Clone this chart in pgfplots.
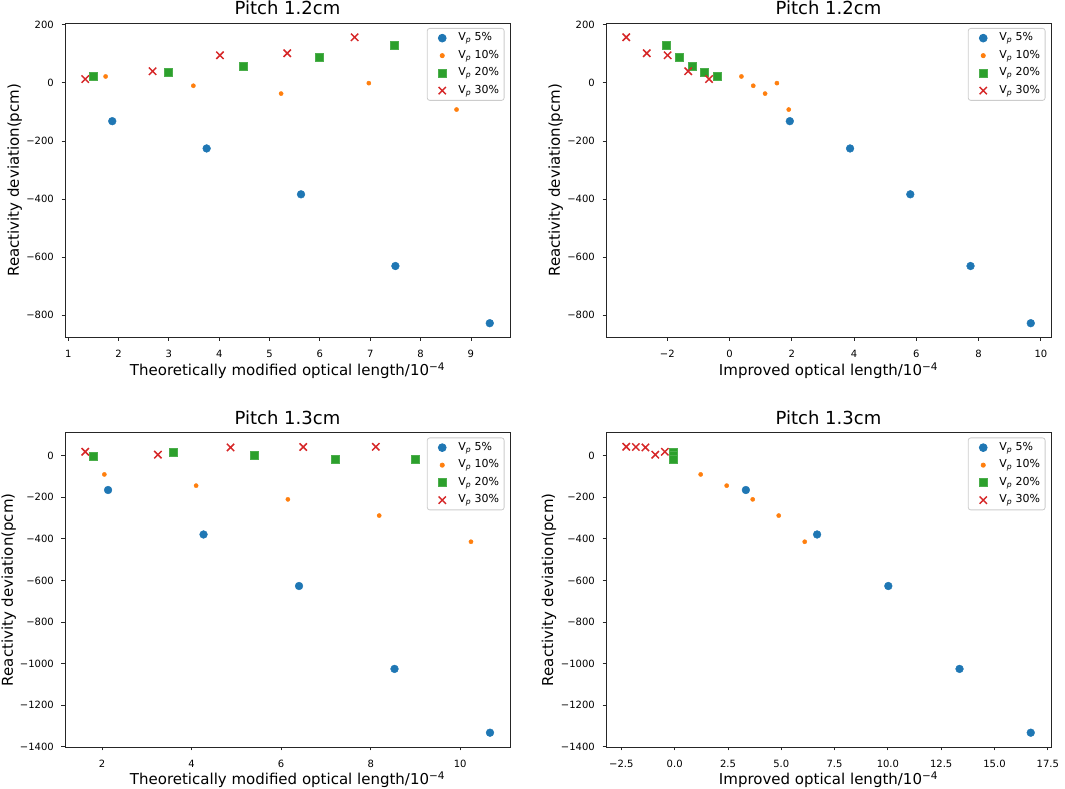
\documentclass[border=0pt]{standalone}
\usepackage{fontspec}
\setmainfont{DejaVu Sans}
\usepackage{pgfplots}
\pgfplotsset{compat=1.18}

\definecolor{mplblue}{HTML}{1F77B4}
\definecolor{mplorange}{HTML}{FF7F0E}
\definecolor{mplgreen}{HTML}{2CA02C}
\definecolor{mplred}{HTML}{D62728}

% tick numbers with a real minus sign, set in the text font
\newcommand\mplnum[2][]{%
  \pgfmathparse{(#2)<0}%
  \ifdim\pgfmathresult pt>0.5pt −\fi
  \pgfmathparse{abs(#2)}%
  \pgfmathprintnumber[assume math mode=true,1000 sep={},#1]{\pgfmathresult}}

\pgfplotsset{
  panel/.style={
    scale only axis, width=445pt, height=314.5pt,
    axis line style={black!85, line width=0.8pt},
    every tick/.style={black!85, line width=0.8pt},
    tick pos=left, tick align=outside, major tick length=3.5pt,
    tick label style={font=\fontsize{10}{12}\selectfont, inner sep=0pt},
    xticklabel style={anchor=base, yshift=-17pt},
    yticklabel style={anchor=east, xshift=-7.5pt},
    xticklabel={\mplnum{\tick}},
    yticklabel={\mplnum{\tick}},
    every axis title shift=0pt,
    title style={at={(axis description cs:0.5,1.0254)}, anchor=base,
      font=\fontsize{18}{22}\selectfont, inner sep=0pt},
    xlabel style={at={(axis description cs:0.5,-0.1208)}, anchor=base,
      font=\fontsize{15}{18}\selectfont, inner sep=0pt},
    ylabel style={anchor=base, font=\fontsize{15}{18}\selectfont, inner sep=0pt},
    ylabel={Reactivity deviation(pcm)},
    legend cell align=left,
    legend style={at={(axis description cs:1,1)}, anchor=north east,
      xshift=-5.5pt, yshift=-5pt, draw=black!20, line width=0.8pt,
      rounded corners=2.5pt, fill=white, fill opacity=0.8, draw opacity=1,
      text opacity=1, font=\fontsize{11}{13}\selectfont,
      inner xsep=5pt, inner ysep=4pt, row sep=6pt,
      nodes={inner sep=0pt, text height=8.5pt, text depth=3pt},
      /tikz/every odd column/.append style={column sep=6pt}},
  },
  legimg/.style={legend image code/.code={%
    \path[draw=none,fill=none] (0pt,-1pt) (20pt,1pt);
    \draw[mark repeat=2,mark phase=2,##1,fill opacity=1,draw opacity=1]
      plot coordinates {(0pt,0pt)(10pt,0pt)(20pt,0pt)};}},
  s5/.style={only marks, mark=*, mark size=3.9pt, mplblue, legimg},
  s10/.style={only marks, mark=*, mark size=2.1pt, mplorange, legimg},
  s20/.style={only marks, mark=square*, mark size=4pt,
    mark options={fill=mplgreen, draw=mplgreen!85!white, line width=0.6pt}, mplgreen, legimg},
  s30/.style={only marks, mark=x, mark size=5.2pt, mark options={line width=1.5pt}, mplred, legimg},
}

\begin{document}
\begin{tikzpicture}
\useasboundingbox (0,0) rectangle (1065pt,789pt);

% top left
\begin{axis}[panel, at={(65pt,451.5pt)}, anchor=south west,
  xmin=0.936, xmax=9.777, ymin=-877.25, ymax=206.25,
  xtick={1,...,9}, ytick={-800,-600,-400,-200,0,200},
  title={Pitch 1.2cm},
  xlabel={Theoretically modified optical length/10\textsuperscript{−4}},
  ylabel style={at={(axis description cs:-0.1034,0.5)}}]
\addplot[s5] coordinates {(1.875,-132) (3.75,-226) (5.625,-384) (7.5,-631) (9.375,-828)};
\addlegendentry{V\textsubscript{\textit{p}} 5\%}
\addplot[s10] coordinates {(1.743,22) (3.486,-10) (5.229,-37) (6.972,-1) (8.715,-92)};
\addlegendentry{V\textsubscript{\textit{p}} 10\%}
\addplot[s20] coordinates {(1.495,24) (2.99,37) (4.485,57) (5.98,89) (7.475,130)};
\addlegendentry{V\textsubscript{\textit{p}} 20\%}
\addplot[s30] coordinates {(1.338,13) (2.676,40) (4.014,95) (5.352,102) (6.69,157)};
\addlegendentry{V\textsubscript{\textit{p}} 30\%}
\end{axis}

% top right
\begin{axis}[panel, at={(606pt,451.5pt)}, anchor=south west,
  xmin=-3.97, xmax=10.325, ymin=-877.25, ymax=206.25,
  xtick={-2,0,...,10}, ytick={-800,-600,-400,-200,0,200},
  title={Pitch 1.2cm},
  xlabel={Improved optical length/10\textsuperscript{−4}},
  ylabel style={at={(axis description cs:-0.1034,0.5)}}]
\addplot[s5] coordinates {(1.935,-132) (3.87,-226) (5.805,-384) (7.74,-631) (9.675,-828)};
\addlegendentry{V\textsubscript{\textit{p}} 5\%}
\addplot[s10] coordinates {(0.38,22) (0.76,-10) (1.14,-37) (1.52,-1) (1.90,-92)};
\addlegendentry{V\textsubscript{\textit{p}} 10\%}
\addplot[s20] coordinates {(-0.40,24) (-0.80,37) (-1.21,57) (-1.61,89) (-2.02,130)};
\addlegendentry{V\textsubscript{\textit{p}} 20\%}
\addplot[s30] coordinates {(-0.66,13) (-1.33,40) (-1.99,95) (-2.66,102) (-3.32,157)};
\addlegendentry{V\textsubscript{\textit{p}} 30\%}
\end{axis}

% bottom left
\begin{axis}[panel, at={(65pt,42pt)}, anchor=south west,
  xmin=1.171, xmax=11.112, ymin=-1401.8, ymax=111.8,
  xtick={2,4,...,10}, ytick={-1400,-1200,...,0},
  title={Pitch 1.3cm},
  xlabel={Theoretically modified optical length/10\textsuperscript{−4}},
  ylabel style={at={(axis description cs:-0.1169,0.5)}}]
\addplot[s5] coordinates {(2.133,-165) (4.266,-379) (6.399,-627) (8.532,-1026) (10.665,-1333)};
\addlegendentry{V\textsubscript{\textit{p}} 5\%}
\addplot[s10] coordinates {(2.05,-90) (4.10,-144) (6.15,-210) (8.19,-288) (10.24,-414)};
\addlegendentry{V\textsubscript{\textit{p}} 10\%}
\addplot[s20] coordinates {(1.8,-3) (3.6,16) (5.4,2) (7.2,-18) (9.0,-19)};
\addlegendentry{V\textsubscript{\textit{p}} 20\%}
\addplot[s30] coordinates {(1.623,19) (3.246,5) (4.869,40) (6.492,42) (8.115,43)};
\addlegendentry{V\textsubscript{\textit{p}} 30\%}
\end{axis}

% bottom right
\begin{axis}[panel, at={(606pt,42pt)}, anchor=south west,
  xmin=-3.22, xmax=17.65, ymin=-1401.8, ymax=111.8,
  xtick={-2.5,0,...,17.5}, ytick={-1400,-1200,...,0},
  xticklabel={\mplnum[fixed,fixed zerofill,precision=1]{\tick}},
  title={Pitch 1.3cm},
  xlabel={Improved optical length/10\textsuperscript{−4}},
  ylabel style={at={(axis description cs:-0.1191,0.5)}}]
\addplot[s5] coordinates {(3.34,-165) (6.68,-379) (10.02,-627) (13.36,-1026) (16.70,-1333)};
\addlegendentry{V\textsubscript{\textit{p}} 5\%}
\addplot[s10] coordinates {(1.22,-90) (2.44,-144) (3.66,-210) (4.88,-288) (6.10,-414)};
\addlegendentry{V\textsubscript{\textit{p}} 10\%}
\addplot[s20] coordinates {(-0.05,-3) (-0.05,16) (-0.05,2) (-0.05,-18) (-0.05,-19)};
\addlegendentry{V\textsubscript{\textit{p}} 20\%}
\addplot[s30] coordinates {(-0.46,19) (-0.91,5) (-1.37,40) (-1.82,42) (-2.27,43)};
\addlegendentry{V\textsubscript{\textit{p}} 30\%}
\end{axis}
\end{tikzpicture}
\end{document}
